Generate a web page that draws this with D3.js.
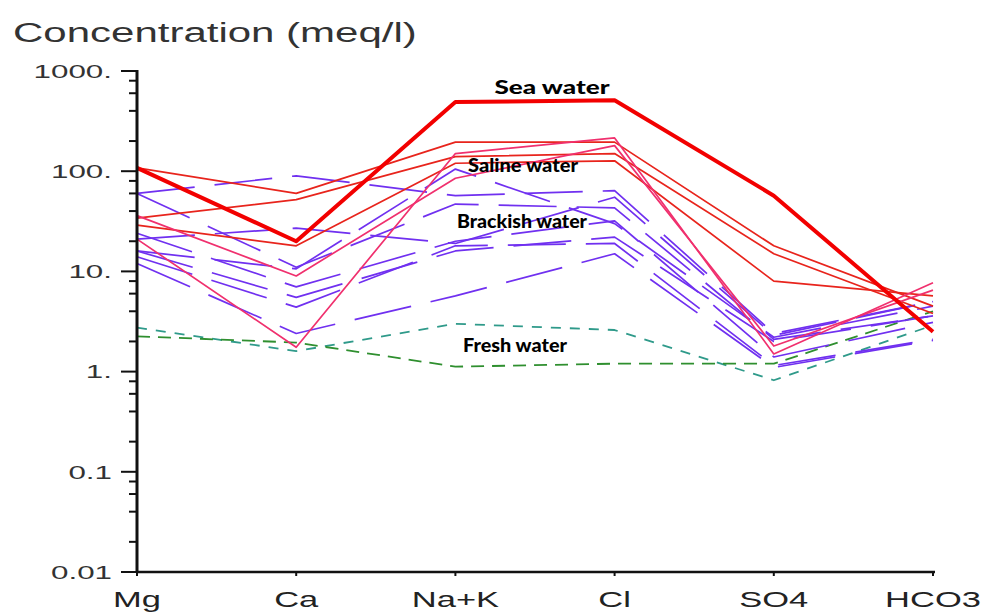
<!DOCTYPE html>
<html>
<head>
<meta charset="utf-8">
<script src="https://cdn.jsdelivr.net/npm/d3@7"></script>
<style>
  body { margin: 0; background: #fff; }
</style>
</head>
<body>
<script>
/*
Schoeller diagram - water types
*/

var ions = ["Mg", "Ca", "Na+K", "Cl", "SO4", "HCO3"];
var yTicks = [0.01, 0.1, 1, 10, 100, 1000];
var yTickLabels = ["0.01", "0.1", "1.", "10.", "100.", "1000."];

// sea water sample (thick)
var seaWater = [108, 20, 490, 510, 57, 2.5];

// saline samples
var saline1 = [108, 60, 195, 195, 18, 4.5];
var saline2 = [34, 52, 140, 150, 15, 3.8];
var saline3 = [29, 18, 120, 127, 8, 5.7];
var saline4 = [36, 9, 85, 180, 1.8, 6.5];
var saline5 = [21, 1.75, 150, 215, 1.5, 7.7];

// brackish samples
var brackish1 = [60, 90, 57, 64, 2.4, 5.0];
var brackish2 = [60, 11, 47, 43, 2.1, 3.6];
var brackish3 = [21, 27, 19, 55, 2.3, 5.0];
var brackish4 = [24, 7, 20, 32, 1.4, 3.1];
var brackish5 = [16, 5.5, 16, 22, 2.0, 3.6];
var brackish6 = [14, 4.4, 18, 19, 1.15, 2.1];
var brackish7 = [12, 2.4, 5.7, 15, 1.1, 2.05];
var brackish8 = [16, 10.6, 105, 30, 2.2, 4.5];

// fresh samples
var fresh1 = [2.75, 1.6, 3.0, 2.6, 0.82, 2.9];
var fresh2 = [2.25, 1.95, 1.12, 1.2, 1.2, 4.0];

var labels = ["Sea water", "Saline water", "Brackish water", "Fresh water"];

var width = 994;
var height = 614;

var xScale = d3.scalePoint()
        .domain(ions)
        .range([137, 933]);

var yScale = d3.scaleLog()
        .domain([0.01, 1000])
        .range([572, 71]);

var svg = d3.select("body")
      .append("svg")
      .attr("width", width)
      .attr("height", height);

var valueline = d3.line()
      .x(function(d, i) { return xScale(ions[i]); })
      .y(function(d) { return yScale(d); });

// series groups: data, colour, width, dash
var groups = [
  { rows: [fresh1], color: "#2f9a8a", w: 1.8, dash: "10,9" },
  { rows: [fresh2], color: "#2f8f2f", w: 1.8, dash: "13,8" },
  { rows: [brackish1, brackish2, brackish3, brackish4, brackish5, brackish6, brackish7, brackish8],
    color: "#7030f0", w: 1.7, dash: "58,20" },
  { rows: [saline1, saline2, saline3], color: "#e8241c", w: 1.7, dash: null },
  { rows: [saline4, saline5], color: "#f0306e", w: 1.7, dash: null },
  { rows: [seaWater], color: "#f20000", w: 4, dash: null }
];

groups.forEach(function(g) {
  svg.append("g")
    .selectAll("path")
    .data(g.rows)
    .enter()
    .append("path")
      .attr("d", valueline)
      .attr("fill", "none")
      .attr("stroke", g.color)
      .attr("stroke-width", g.w)
      .attr("stroke-linejoin", "round")
      .attr("stroke-dasharray", g.dash);
});

// axes
var yAxis = svg.append("g")
        .attr("transform", "translate(137,0)");

var minor = [];
yTicks.slice(0, -1).forEach(function(t) {
  [2, 4, 6, 8].forEach(function(m) { minor.push(t * m); });
});

yAxis.selectAll(".major")
  .data(yTicks)
  .enter().append("line")
    .attr("x1", -16).attr("x2", 0)
    .attr("y1", function(d) { return yScale(d); })
    .attr("y2", function(d) { return yScale(d); })
    .attr("stroke", "#111").attr("stroke-width", 2);

yAxis.selectAll(".minor")
  .data(minor)
  .enter().append("line")
    .attr("x1", -8).attr("x2", 0)
    .attr("y1", function(d) { return yScale(d); })
    .attr("y2", function(d) { return yScale(d); })
    .attr("stroke", "#111").attr("stroke-width", 2);

yAxis.append("line")
  .attr("x1", 0).attr("x2", 0)
  .attr("y1", yScale(1000) - 1).attr("y2", yScale(0.01) + 1)
  .attr("stroke", "#111").attr("stroke-width", 3);

svg.selectAll(".ylab")
  .data(yTicks)
  .enter().append("text")
    .attr("transform", function(d) { return "translate(112," + yScale(d) + ") scale(1.65,1)"; })
    .attr("dy", "0.36em")
    .attr("text-anchor", "end")
    .style("font-family", "Liberation Sans, Arial, sans-serif")
    .style("font-size", "19px")
    .style("fill", "#333")
    .text(function(d, i) { return yTickLabels[i]; });

var xAxis = svg.append("g")
        .attr("transform", "translate(0,572)");

xAxis.append("line")
  .attr("x1", 136).attr("x2", 935)
  .attr("y1", 0).attr("y2", 0)
  .attr("stroke", "#111").attr("stroke-width", 2.5);

xAxis.selectAll(".xt")
  .data(ions)
  .enter().append("line")
    .attr("x1", function(d) { return xScale(d); })
    .attr("x2", function(d) { return xScale(d); })
    .attr("y1", 0).attr("y2", 4)
    .attr("stroke", "#111").attr("stroke-width", 2);

xAxis.selectAll(".xlab")
  .data(ions)
  .enter().append("text")
    .attr("transform", function(d) { return "translate(" + xScale(d) + ",35) scale(1.5,1)"; })
    .attr("text-anchor", "middle")
    .style("font-family", "Liberation Sans, Arial, sans-serif")
    .style("font-size", "23px")
    .style("fill", "#222")
    .text(function(d) { return d; });

// y title
svg.append("text")
  .attr("transform", "translate(13,42) scale(1.5,1)")
  .style("font-family", "Liberation Sans, Arial, sans-serif")
  .style("font-size", "28px")
  .style("fill", "#333")
  .text("Concentration (meq/l)");

// water type labels
var labelX = [552, 523, 522, 515];
var labelY = [94, 172, 228, 352];
var labelLen = [115, 110, 130, 104];

svg.selectAll(".wlab")
  .data(labels)
  .enter().append("text")
    .attr("x", function(d, i) { return labelX[i] - labelLen[i] / 2; })
    .attr("y", function(d, i) { return labelY[i]; })
    .attr("textLength", function(d, i) { return labelLen[i]; })
    .attr("lengthAdjust", "spacingAndGlyphs")
    .style("font-family", "Lato, 'Open Sans', sans-serif")
    .style("font-weight", "900")
    .style("font-size", "19px")
    .style("fill", "#000")
    .text(function(d) { return d; });
</script>
</body>
</html>
